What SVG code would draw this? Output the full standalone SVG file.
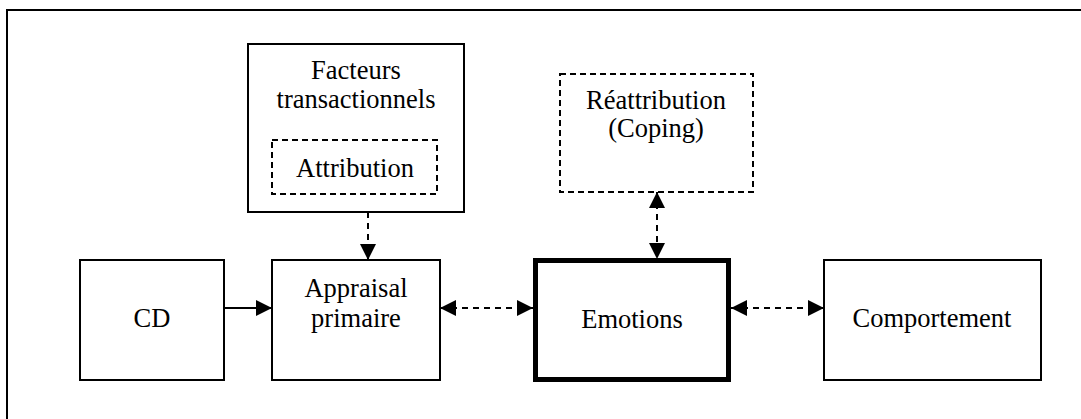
<svg xmlns="http://www.w3.org/2000/svg" width="1081" height="419" viewBox="0 0 1081 419">
  <defs>
    <style>
      .box { fill: #ffffff; stroke: #000000; stroke-width: 2; }
      .dbox { fill: #ffffff; stroke: #000000; stroke-width: 2; stroke-dasharray: 6 4; }
      .thick { fill: #ffffff; stroke: #000000; stroke-width: 5; }
      text { font-family: 'Liberation Serif', 'DejaVu Serif', serif; font-size: 26.5px; fill: #000000; text-anchor: middle; }
      .solid { stroke: #000000; stroke-width: 2; fill: none; }
      .dash { stroke: #000000; stroke-width: 2; fill: none; stroke-dasharray: 6 5; }
    </style>
    <marker id="head" markerUnits="userSpaceOnUse" markerWidth="16" markerHeight="16" viewBox="0 0 16 16" refX="16" refY="8" orient="auto-start-reverse">
      <path d="M0,0 L16,8 L0,16 Z" fill="#000000"/>
    </marker>
  </defs>

  <rect width="1081" height="419" fill="#ffffff"/>
  <!-- outer frame, running past the right and bottom edges -->
  <rect x="7" y="10" width="1100" height="430" fill="none" stroke="#000000" stroke-width="2"/>

  <g id="facteurs">
    <rect class="box" x="248" y="44" width="216" height="168"/>
    <text x="356" y="79">Facteurs</text>
    <text x="356" y="108">transactionnels</text>
  </g>

  <g id="attribution">
    <rect class="dbox" x="272" y="140" width="165" height="54"/>
    <text x="355" y="177">Attribution</text>
  </g>

  <g id="reattribution">
    <rect class="dbox" x="560" y="74" width="193" height="118"/>
    <text x="656" y="109">Réattribution</text>
    <text x="656" y="137">(Coping)</text>
  </g>

  <g id="cd">
    <rect class="box" x="80" y="260" width="144" height="120"/>
    <text x="152" y="327">CD</text>
  </g>

  <g id="appraisal">
    <rect class="box" x="272" y="260" width="168" height="120"/>
    <text x="356" y="297">Appraisal</text>
    <text x="356" y="327">primaire</text>
  </g>

  <g id="emotions">
    <rect class="thick" x="535.5" y="260.5" width="193" height="119"/>
    <text x="632" y="328">Emotions</text>
  </g>

  <g id="comportement">
    <rect class="box" x="824" y="260" width="217" height="120"/>
    <text x="932" y="327">Comportement</text>
  </g>

  <g id="connectors">
    <line class="solid" x1="224" y1="308" x2="272" y2="308" marker-end="url(#head)"/>
    <line class="dash" x1="368" y1="212" x2="368" y2="260" marker-end="url(#head)"/>
    <line class="dash" x1="440" y1="308" x2="533" y2="308" marker-start="url(#head)" marker-end="url(#head)"/>
    <line class="dash" x1="731" y1="308" x2="824" y2="308" marker-start="url(#head)" marker-end="url(#head)"/>
    <line class="dash" x1="657" y1="192" x2="657" y2="259" marker-start="url(#head)" marker-end="url(#head)"/>
  </g>
</svg>
